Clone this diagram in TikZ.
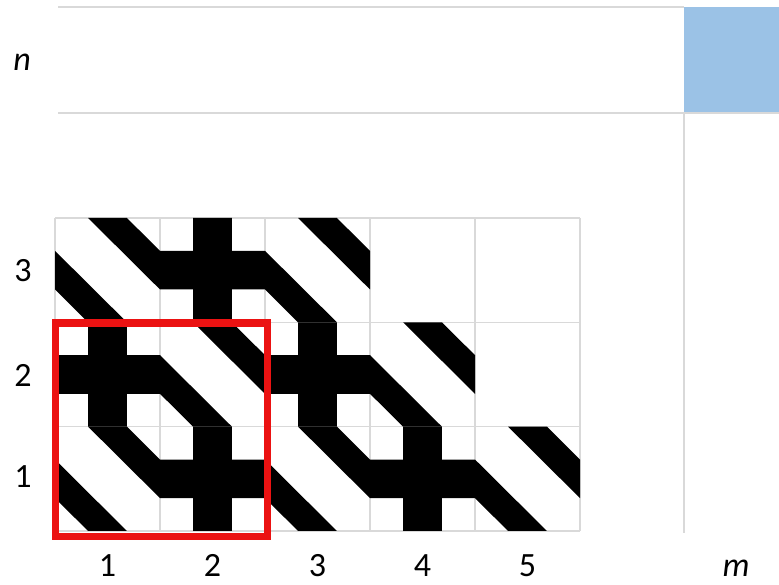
\documentclass[tikz,border=0pt]{standalone}
\usepackage{fontspec}
\setmainfont{Carlito}
\definecolor{gridgray}{RGB}{217,217,217}
\definecolor{cellblue}{RGB}{155,194,230}
\definecolor{boxred}{RGB}{235,18,18}
\def\ca{0.315}
\def\cb{0.685}
\newcommand{\crosstile}[2]{%
  \begin{scope}[shift={(55+105*#1-105,218+104.33*#2)},x=105pt,y=-104.33pt]
    \fill[tilefill] (\ca,0) -- (\cb,0) -- (\cb,\ca) -- (1,\ca) -- (1,\cb) -- (\cb,\cb)
      -- (\cb,1) -- (\ca,1) -- (\ca,\cb) -- (0,\cb) -- (0,\ca) -- (\ca,\ca) -- cycle;
  \end{scope}}
\newcommand{\bandtile}[2]{%
  \begin{scope}[shift={(55+105*#1-105,218+104.33*#2)},x=105pt,y=-104.33pt]
    \fill[tilefill] (\ca,0) -- (\cb,0) -- (1,\ca) -- (1,\cb) -- cycle;
    \fill[tilefill] (0,\ca) -- (\cb,1) -- (\ca,1) -- (0,\cb) -- cycle;
  \end{scope}}
\begin{document}
\begin{tikzpicture}[x=1pt,y=-1pt,
  gridline/.style={draw=gridgray,line width=1.6pt},
  tilefill/.style={fill=black},
  lbl/.style={inner sep=0pt,anchor=base,font=\fontsize{34}{40}\selectfont},
  ilbl/.style={lbl,font=\fontsize{34}{40}\selectfont\itshape},
  redbox/.style={draw=boxred,line width=7pt}]
\useasboundingbox (0,0) rectangle (779,585);
\fill[white] (0,0) rectangle (779,585);
% upper table row
\fill[cellblue] (684,7) rectangle (779,113);
\draw[gridline] (58,7) -- (684,7);
\draw[gridline] (58,113) -- (779,113);
\draw[gridline] (684,113) -- (684,533);
% pattern grid
\foreach \i in {0,...,5} {\draw[gridline] (55+105*\i,218) -- (55+105*\i,531);}
\foreach \j in {0,...,3} {\draw[gridline] (55,218+104.33*\j) -- (580,218+104.33*\j);}
% tiles: row index 0 = row 3 (top), 2 = row 1 (bottom)
\bandtile{1}{0}
\crosstile{2}{0}
\bandtile{3}{0}
\crosstile{1}{1}
\bandtile{2}{1}
\crosstile{3}{1}
\bandtile{4}{1}
\bandtile{1}{2}
\crosstile{2}{2}
\bandtile{3}{2}
\crosstile{4}{2}
\bandtile{5}{2}
% red selection box
\draw[redbox] (55,323) rectangle (267.5,536);
% labels
\node[ilbl] (n) at (22,71) {n};
\node[ilbl] (m) at (736,576) {m};
\node[lbl] (r3) at (23,282) {3};
\node[lbl] (r2) at (23,386) {2};
\node[lbl] (r1) at (23,487) {1};
\node[lbl] (c1) at (107.5,576) {1};
\node[lbl] (c2) at (212.5,576) {2};
\node[lbl] (c3) at (317.5,576) {3};
\node[lbl] (c4) at (422.5,576) {4};
\node[lbl] (c5) at (527.5,576) {5};
\end{tikzpicture}
\end{document}
